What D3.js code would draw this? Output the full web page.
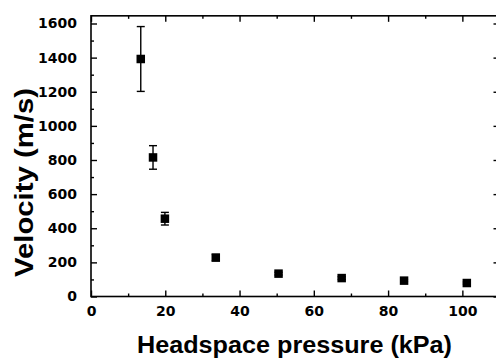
<!DOCTYPE html>
<html><head><meta charset="utf-8">
<script src="https://cdn.jsdelivr.net/npm/d3@7"></script>
<style>body{margin:0;background:#fff}svg{display:block}</style>
</head><body><svg id="c" width="496" height="362"></svg>
<script>
const pressure = [13.4, 16.7, 19.9, 33.6, 50.5, 67.5, 84.3, 101.2];
const velocity = [1392, 815, 456, 228, 134, 108, 93, 79];
const errors = [190, 69, 37, 18, 8, 8, 6, 6];
const xTicks = [0, 20, 40, 60, 80, 100];
const yTicks = [0, 200, 400, 600, 800, 1000, 1200, 1400, 1600];

const svg = d3.select('#c');
const L = 91, R = 499.5, B = 296.5;
const x = d3.scaleLinear().domain([0, 110]).range([L, R]);
const y = d3.scaleLinear().domain([0, 1600]).range([B, 23.5]);
const T = y(1645);
const tickFont = '"DejaVu Sans", sans-serif';

function styleAxis(g){
  g.select('.domain').remove();
  g.selectAll('.tick line').attr('stroke','#000').attr('stroke-width',1.4);
  g.selectAll('.tick text').attr('font-family',tickFont).attr('font-weight','bold').attr('font-size',14).attr('fill','#000');
}
const minorX = d3.range(10, 110, 20);
const minorY = d3.range(100, 1700, 200);
svg.append('g').attr('transform',`translate(0,${B})`)
  .call(d3.axisBottom(x).tickValues(xTicks).tickSizeInner(-6).tickSizeOuter(0).tickPadding(10).tickFormat(d3.format('d')))
  .call(styleAxis);
svg.append('g').attr('transform',`translate(0,${B})`)
  .call(d3.axisBottom(x).tickValues(minorX).tickSizeInner(-3).tickSizeOuter(0).tickFormat(''))
  .call(styleAxis);
svg.append('g').attr('transform',`translate(0,${T})`)
  .call(d3.axisTop(x).tickValues(xTicks).tickSizeInner(-6).tickSizeOuter(0).tickFormat(''))
  .call(styleAxis);
svg.append('g').attr('transform',`translate(0,${T})`)
  .call(d3.axisTop(x).tickValues(minorX).tickSizeInner(-3).tickSizeOuter(0).tickFormat(''))
  .call(styleAxis);
svg.append('g').attr('transform',`translate(${L},0)`)
  .call(d3.axisLeft(y).tickValues(yTicks).tickSizeInner(-6).tickSizeOuter(0).tickPadding(14).tickFormat(d3.format('d')))
  .call(styleAxis);
svg.append('g').attr('transform',`translate(${L},0)`)
  .call(d3.axisLeft(y).tickValues(minorY.filter(v=>v<1645)).tickSizeInner(-3).tickSizeOuter(0).tickFormat(''))
  .call(styleAxis);
svg.append('g').attr('transform',`translate(${R},0)`)
  .call(d3.axisRight(y).tickValues(yTicks).tickSizeInner(-6).tickSizeOuter(0).tickFormat(''))
  .call(styleAxis);
svg.append('g').attr('transform',`translate(${R},0)`)
  .call(d3.axisRight(y).tickValues(minorY.filter(v=>v<1645)).tickSizeInner(-3).tickSizeOuter(0).tickFormat(''))
  .call(styleAxis);

svg.append('rect').attr('x',L).attr('y',T).attr('width',R-L).attr('height',B-T)
  .attr('fill','none').attr('stroke','#000').attr('stroke-width',1.6);

const data = pressure.map((p,i)=>({p, v:velocity[i], e:errors[i]}));
const eb = svg.append('g').attr('stroke','#000').attr('stroke-width',1.4);
data.forEach(d=>{
  const cx = x(d.p);
  eb.append('line').attr('x1',cx).attr('x2',cx).attr('y1',y(d.v+d.e)).attr('y2',y(d.v-d.e));
  eb.append('line').attr('x1',cx-4).attr('x2',cx+4).attr('y1',y(d.v+d.e)).attr('y2',y(d.v+d.e));
  eb.append('line').attr('x1',cx-4).attr('x2',cx+4).attr('y1',y(d.v-d.e)).attr('y2',y(d.v-d.e));
});
const s = 8.5;
svg.append('g').selectAll('rect').data(data).join('rect')
  .attr('x',d=>x(d.p)-s/2).attr('y',d=>y(d.v)-s/2).attr('width',s).attr('height',s).attr('fill','#000');

svg.append('text').attr('x',137).attr('y',353).attr('font-family','"Liberation Sans", Arial, sans-serif')
  .attr('font-weight','bold').attr('font-size',23).attr('textLength',315).attr('lengthAdjust','spacingAndGlyphs')
  .text('Headspace pressure (kPa)');
svg.append('text').attr('transform','translate(33,277) rotate(-90)').attr('font-family','"Liberation Sans", Arial, sans-serif')
  .attr('font-weight','bold').attr('font-size',25).attr('textLength',189).attr('lengthAdjust','spacingAndGlyphs')
  .text('Velocity (m/s)');
</script></body></html>
